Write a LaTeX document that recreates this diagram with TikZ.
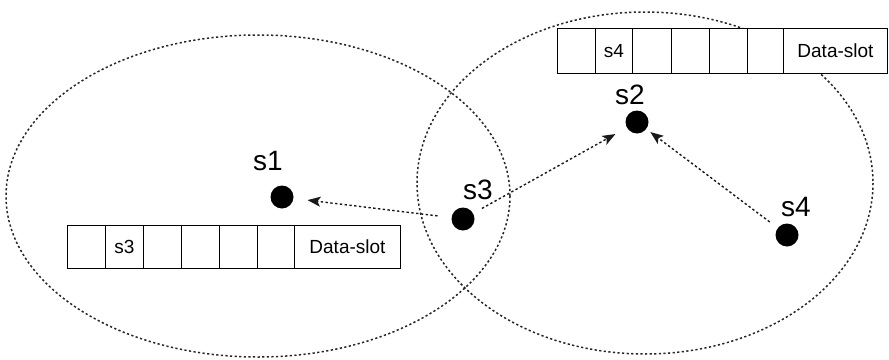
\documentclass[tikz,border=0pt]{standalone}
\usepackage{fontspec}
\setmainfont{Liberation Sans}
\usetikzlibrary{arrows.meta}
\begin{document}
\begin{tikzpicture}[x=1pt,y=-1pt,
  zone/.style={draw=black!85,line width=1.5pt,dash pattern=on 2.2pt off 2.4pt},
  dotnode/.style={circle,fill=black,inner sep=0pt,minimum size=23pt},
  lbl/.style={font=\fontsize{28}{30}\selectfont},
  cell/.style={draw=black,fill=white,line width=0.9pt,minimum width=#1,inner sep=0pt,anchor=north west,font=\fontsize{19}{21}\selectfont},
  link/.style={draw=black!90,line width=1.4pt,dash pattern=on 2.4pt off 2.4pt,-{Stealth[length=13pt,width=10pt,inset=3pt]}}]
\useasboundingbox (0,0) rectangle (889,359);
% zones
\draw[zone] (258,196) ellipse [x radius=252, y radius=161];
\draw[zone] (645,183) ellipse [x radius=228, y radius=171];
% stations
\node[dotnode] (s1) at (282,197) {};
\node[dotnode] (s3) at (463,219) {};
\node[dotnode] (s2) at (637,122) {};
\node[dotnode] (s4) at (787,235) {};
\node[lbl] (l1) at (268,161) {s1};
\node[lbl] (l3) at (478,190) {s3};
\node[lbl] (l2) at (630,95) {s2};
\node[lbl] (l4) at (796,207) {s4};
% links
\draw[link,shorten <=14pt,shorten >=14pt] (s3) -- (s1);
\draw[link,shorten <=10pt,shorten >=13pt] (s3) -- (s2);
\draw[link,shorten <=10pt,shorten >=5pt] (s4) -- (s2);
% top slot frame
\begin{scope}[every node/.append style={minimum height=45pt}]
\node[cell=38pt] (ta) at (557,28) {};
\node[cell=37pt] (tb) at (595,28) {s4};
\node[cell=39pt] (tc) at (632,28) {};
\node[cell=38pt] (td) at (671,28) {};
\node[cell=38pt] (te) at (709,28) {};
\node[cell=36pt] (tf) at (747,28) {};
\node[cell=104pt] (tg) at (783,28) {Data-slot};
\end{scope}
% bottom slot frame
\begin{scope}[every node/.append style={minimum height=43pt}]
\node[cell=38pt] (ba) at (67,225) {};
\node[cell=38pt] (bb) at (105,225) {s3};
\node[cell=38pt] (bc) at (143,225) {};
\node[cell=38pt] (bd) at (181,225) {};
\node[cell=38pt] (be) at (219,225) {};
\node[cell=37pt] (bf) at (257,225) {};
\node[cell=106pt] (bg) at (294,225) {Data-slot};
\end{scope}
\end{tikzpicture}
\end{document}
